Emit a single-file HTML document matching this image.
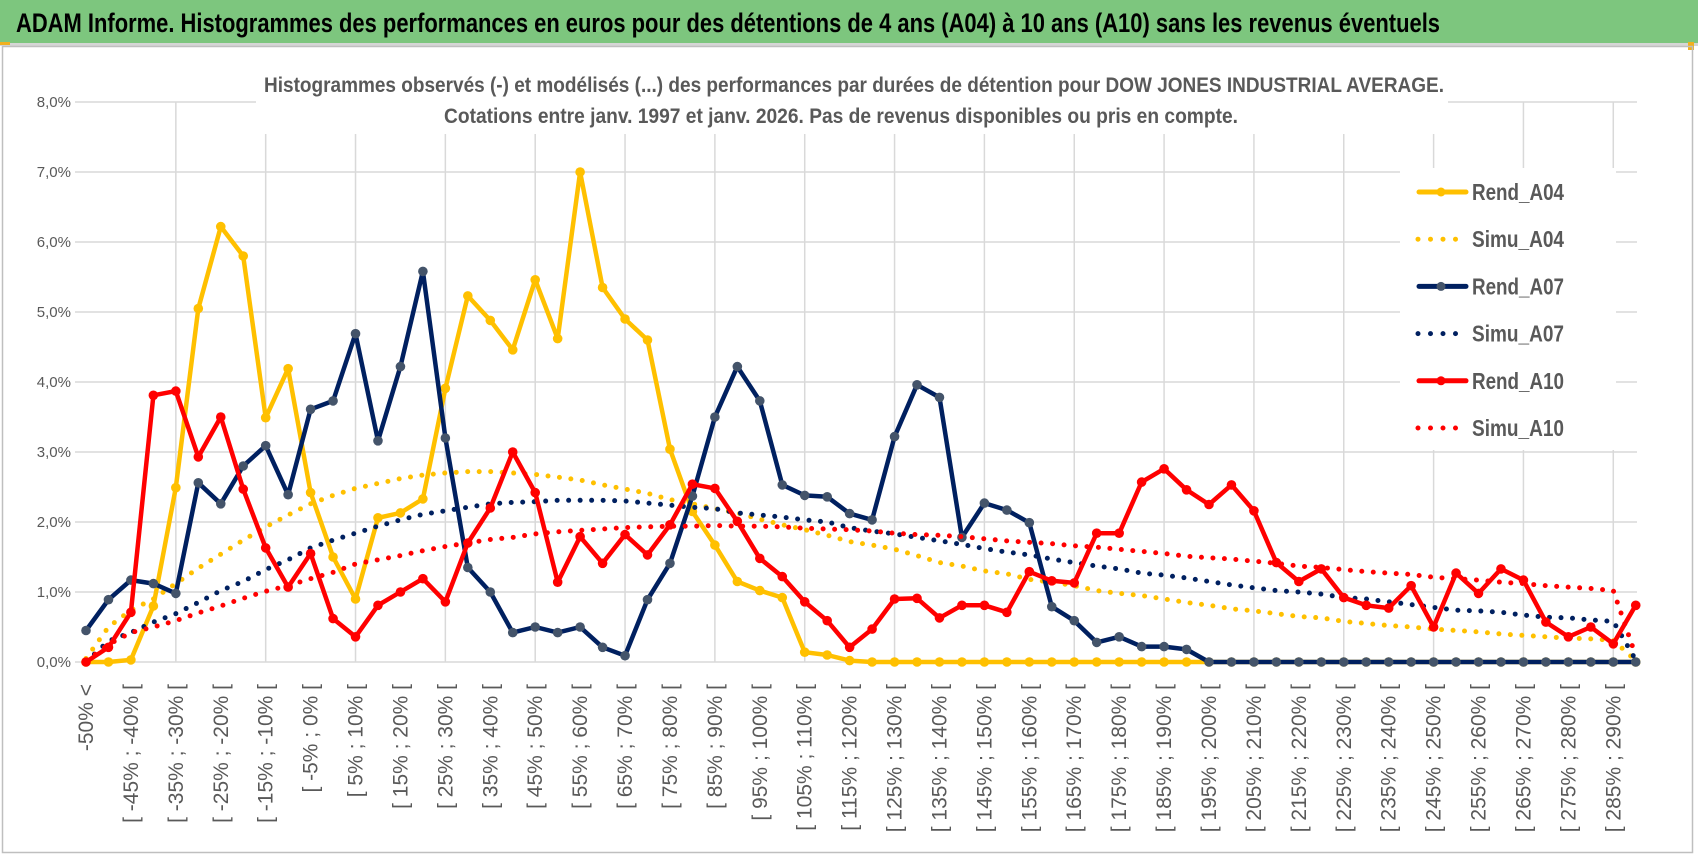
<!DOCTYPE html>
<html><head><meta charset="utf-8">
<style>
html,body{margin:0;padding:0;background:#fff;}
svg{display:block;}
text{font-family:"Liberation Sans Narrow","Liberation Sans",sans-serif;}
</style></head>
<body>
<svg id="chart" width="1698" height="854" viewBox="0 0 1698 854" xmlns="http://www.w3.org/2000/svg">
  <rect x="0" y="0" width="1698" height="854" fill="#fff"/>
  <rect x="0" y="0" width="1698" height="43" fill="#7DC67E"/>
  <rect x="0" y="43" width="1698" height="3" fill="#D6D6D6"/>
  <rect x="0" y="42" width="10" height="3" fill="#F0B020"/>
  <rect x="1688" y="42" width="6" height="8" fill="#F0B020"/>
  <text x="16" y="32" font-size="27" font-weight="bold" fill="#000" textLength="1424" lengthAdjust="spacingAndGlyphs">ADAM Informe. Histogrammes des performances en euros pour des détentions de 4 ans (A04) à 10 ans (A10) sans les revenus éventuels</text>
  <rect x="2.5" y="46.5" width="1690" height="806" fill="none" stroke="#BFBFBF" stroke-width="1.5"/>
  <g id="grid"></g>
  <rect x="256" y="60" width="1192" height="74" fill="#fff"/>
  <text x="854" y="92" font-size="21" font-weight="bold" fill="#595959" text-anchor="middle" textLength="1180" lengthAdjust="spacingAndGlyphs">Histogrammes observés (-) et modélisés (...) des performances par durées de détention pour DOW JONES INDUSTRIAL AVERAGE.</text>
  <text x="841" y="123" font-size="21" font-weight="bold" fill="#595959" text-anchor="middle" textLength="794" lengthAdjust="spacingAndGlyphs">Cotations entre janv. 1997 et janv. 2026. Pas de revenus disponibles ou pris en compte.</text>
  <g id="yaxis"></g>
  <g id="xaxis"></g>
  <g id="series"></g>
  <g id="legend"></g>
</svg>
<script>
const categories = ["-50% <","[ -50% ; -45% [","[ -45% ; -40% [","[ -40% ; -35% [","[ -35% ; -30% [","[ -30% ; -25% [","[ -25% ; -20% [","[ -20% ; -15% [","[ -15% ; -10% [","[ -10% ; -5% [",
"[ -5% ; 0% [","[ 0% ; 5% [","[ 5% ; 10% [","[ 10% ; 15% [","[ 15% ; 20% [","[ 20% ; 25% [","[ 25% ; 30% [","[ 30% ; 35% [","[ 35% ; 40% [","[ 40% ; 45% [",
"[ 45% ; 50% [","[ 50% ; 55% [","[ 55% ; 60% [","[ 60% ; 65% [","[ 65% ; 70% [","[ 70% ; 75% [","[ 75% ; 80% [","[ 80% ; 85% [","[ 85% ; 90% [","[ 90% ; 95% [",
"[ 95% ; 100% [","[ 100% ; 105% [","[ 105% ; 110% [","[ 110% ; 115% [","[ 115% ; 120% [","[ 120% ; 125% [","[ 125% ; 130% [","[ 130% ; 135% [","[ 135% ; 140% [","[ 140% ; 145% [",
"[ 145% ; 150% [","[ 150% ; 155% [","[ 155% ; 160% [","[ 160% ; 165% [","[ 165% ; 170% [","[ 170% ; 175% [","[ 175% ; 180% [","[ 180% ; 185% [","[ 185% ; 190% [","[ 190% ; 195% [",
"[ 195% ; 200% [","[ 200% ; 205% [","[ 205% ; 210% [","[ 210% ; 215% [","[ 215% ; 220% [","[ 220% ; 225% [","[ 225% ; 230% [","[ 230% ; 235% [","[ 235% ; 240% [","[ 240% ; 245% [",
"[ 245% ; 250% [","[ 250% ; 255% [","[ 255% ; 260% [","[ 260% ; 265% [","[ 265% ; 270% [","[ 270% ; 275% [","[ 275% ; 280% [","[ 280% ; 285% [","[ 285% ; 290% [","[ 290% ; 295% ["];
const yTicks = [0,1,2,3,4,5,6,7,8];
const yTickLabels = ["0,0%","1,0%","2,0%","3,0%","4,0%","5,0%","6,0%","7,0%","8,0%"];
const rendA04 = [0,0,0.03,0.8,2.49,5.05,6.22,5.8,3.49,4.19,2.42,1.5,0.9,2.06,2.13,2.33,3.91,5.23,4.88,4.46,5.46,4.62,7.0,5.35,4.9,4.6,3.04,2.15,1.67,1.15,1.02,0.92,0.14,0.1,0.02,0,0,0,0,0,0,0,0,0,0,0,0,0,0,0,0,0,0,0,0,0,0,0,0,0,0,0,0,0,0,0,0,0,0,0];
const simuA04 = [0.05,0.5,0.74,0.9,1.12,1.34,1.54,1.74,1.93,2.1,2.26,2.38,2.48,2.55,2.62,2.67,2.7,2.72,2.72,2.7,2.68,2.64,2.6,2.53,2.47,2.41,2.32,2.26,2.19,2.13,2.04,1.96,1.89,1.81,1.72,1.67,1.61,1.52,1.42,1.37,1.3,1.26,1.18,1.14,1.09,1.02,0.98,0.95,0.9,0.85,0.81,0.76,0.73,0.69,0.65,0.63,0.58,0.55,0.52,0.5,0.47,0.45,0.43,0.4,0.38,0.36,0.34,0.33,0.31,0.02];
const rendA07 = [0.45,0.89,1.17,1.12,0.98,2.56,2.26,2.8,3.09,2.39,3.61,3.73,4.69,3.16,4.22,5.58,3.2,1.35,1.0,0.42,0.5,0.42,0.5,0.21,0.09,0.89,1.41,2.37,3.5,4.22,3.73,2.53,2.38,2.36,2.12,2.03,3.22,3.96,3.78,1.78,2.27,2.17,1.99,0.79,0.59,0.28,0.36,0.22,0.22,0.18,0,0,0,0,0,0,0,0,0,0,0,0,0,0,0,0,0,0,0,0];
const simuA07 = [0,0.3,0.42,0.57,0.69,0.85,1.02,1.15,1.32,1.46,1.63,1.74,1.84,1.94,2.03,2.11,2.16,2.21,2.26,2.28,2.29,2.31,2.31,2.31,2.3,2.27,2.24,2.21,2.19,2.13,2.1,2.07,2.03,2.0,1.92,1.87,1.83,1.78,1.73,1.68,1.62,1.57,1.53,1.47,1.42,1.37,1.33,1.27,1.24,1.2,1.15,1.1,1.06,1.02,1.0,0.97,0.92,0.9,0.86,0.82,0.78,0.74,0.73,0.71,0.67,0.64,0.63,0.6,0.58,0.03];
const rendA10 = [0,0.21,0.71,3.81,3.87,2.93,3.5,2.47,1.63,1.07,1.55,0.62,0.36,0.81,1.0,1.19,0.86,1.7,2.2,3.0,2.42,1.14,1.79,1.41,1.82,1.53,1.96,2.54,2.48,2.01,1.48,1.22,0.86,0.59,0.21,0.47,0.9,0.91,0.63,0.81,0.81,0.71,1.29,1.16,1.13,1.84,1.84,2.57,2.76,2.46,2.25,2.53,2.16,1.42,1.15,1.33,0.92,0.81,0.77,1.09,0.5,1.27,0.98,1.33,1.17,0.57,0.36,0.5,0.26,0.81];
const simuA10 = [0.01,0.25,0.42,0.5,0.59,0.7,0.8,0.91,1.01,1.09,1.19,1.28,1.4,1.46,1.52,1.59,1.65,1.7,1.75,1.78,1.83,1.86,1.88,1.9,1.92,1.93,1.94,1.94,1.95,1.94,1.94,1.93,1.91,1.9,1.89,1.87,1.84,1.82,1.81,1.79,1.76,1.73,1.71,1.69,1.66,1.64,1.61,1.58,1.55,1.51,1.49,1.47,1.44,1.41,1.37,1.35,1.32,1.29,1.27,1.25,1.21,1.19,1.17,1.14,1.12,1.09,1.07,1.05,1.02,0.09];
const legendLabels = ["Rend_A04","Simu_A04","Rend_A07","Simu_A07","Rend_A10","Simu_A10"];

const NS = "http://www.w3.org/2000/svg";
const X0 = 86, STEP = 22.46, Y0 = 662, PER = 70, PLOT_L = 75, PLOT_R = 1637;
function xOf(i){ return X0 + STEP * i; }
function yOf(v){ return Y0 - PER * v; }
function mk(tag, attrs, parent){
  const el = document.createElementNS(NS, tag);
  for (const k in attrs) el.setAttribute(k, attrs[k]);
  parent.appendChild(el);
  return el;
}

const grid = document.getElementById('grid');
yTicks.forEach(function(t){
  const l = mk('line', {x1: PLOT_L, x2: PLOT_R, y1: yOf(t), y2: yOf(t), stroke: '#D9D9D9', 'stroke-width': 1.5}, grid);
  
  
});
for (let i = 4; i < categories.length; i += 4) {
  const l = mk('line', {x1: xOf(i), x2: xOf(i), y1: yOf(8), y2: yOf(0), stroke: '#D9D9D9', 'stroke-width': 1.5}, grid);
  
  
}

const yaxis = document.getElementById('yaxis');
yTicks.forEach(function(t, k){
  const tx = mk('text', {x: 71, y: yOf(t) + 5, 'font-size': 15, fill: '#595959', 'text-anchor': 'end', 'font-family': '"Liberation Sans", sans-serif'}, yaxis);
  tx.textContent = yTickLabels[k];
  
  
});

const xaxis = document.getElementById('xaxis');
categories.forEach(function(c, i){
  if (i % 2 !== 0) return;
  const tx = mk('text', {transform: 'translate(' + (xOf(i) + 7) + ',684) rotate(-90)', 'font-size': 21, fill: '#595959', 'text-anchor': 'end', 'font-family': '"Liberation Sans", sans-serif'}, xaxis);
  tx.textContent = c;
  
  
});

const seriesG = document.getElementById('series');
function ptsOf(arr){ return arr.map(function(v, i){ return xOf(i).toFixed(1) + ',' + yOf(v).toFixed(1); }).join(' '); }
function drawSimu(arr, color, name){
  const p = mk('polyline', {points: ptsOf(arr), fill: 'none', stroke: color, 'stroke-width': 5, 'stroke-linecap': 'round', 'stroke-dasharray': '0 11.5'}, seriesG);
  
  
}
function drawRend(arr, color, mcolor, name){
  const g = mk('g', {}, seriesG);
  
  
  const p = mk('polyline', {points: ptsOf(arr), fill: 'none', stroke: color, 'stroke-width': 4.5, 'stroke-linejoin': 'round'}, g);
  
  
  arr.forEach(function(v, i){
    const c = mk('circle', {cx: xOf(i), cy: yOf(v), r: 4.8, fill: mcolor}, g);
    
    
  });
}
drawRend(rendA04, '#FFC000', '#FFC000', 'rend-a04');
drawSimu(simuA04, '#FFC000', 'simu-a04');
drawRend(rendA07, '#002060', '#44546A', 'rend-a07');
drawSimu(simuA07, '#002060', 'simu-a07');
drawRend(rendA10, '#FF0000', '#FF0000', 'rend-a10');
drawSimu(simuA10, '#FF0000', 'simu-a10');

const legend = document.getElementById('legend');
const bg = mk('rect', {x: 1400, y: 168, width: 216, height: 282, fill: '#fff'}, legend);


const legColors = ['#FFC000','#FFC000','#002060','#002060','#FF0000','#FF0000'];
const legMarker = ['#FFC000','','#44546A','','#FF0000',''];
legendLabels.forEach(function(lbl, k){
  const y = 192 + 47.2 * k;
  const g = mk('g', {}, legend);
  
  
  if (k % 2 === 0) {
    mk('line', {x1: 1419, x2: 1466, y1: y, y2: y, stroke: legColors[k], 'stroke-width': 5, 'stroke-linecap': 'round'}, g);
    mk('circle', {cx: 1441, cy: y, r: 4.5, fill: legMarker[k]}, g);
  } else {
    mk('line', {x1: 1418, x2: 1468, y1: y, y2: y, stroke: legColors[k], 'stroke-width': 5, 'stroke-linecap': 'round', 'stroke-dasharray': '0 12.5'}, g);
  }
  const tx = mk('text', {x: 1472, y: y + 8, 'font-size': 23, 'font-weight': 'bold', fill: '#595959', textLength: 92, lengthAdjust: 'spacingAndGlyphs'}, g);
  tx.textContent = lbl;
  
  
});
</script>
</body></html>
